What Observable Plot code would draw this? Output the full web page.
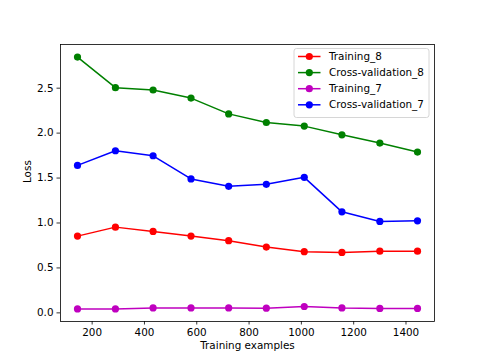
<!DOCTYPE html>
<html>
<head>
<meta charset="utf-8">
<script src="https://cdn.jsdelivr.net/npm/d3@7"></script>
<script src="https://cdn.jsdelivr.net/npm/@observablehq/plot@0.6"></script>
<style>
  html, body { margin: 0; padding: 0; background: #fff; }
  #chart { width: 482px; height: 361px; }
  svg { font-family: "DejaVu Sans", sans-serif; }
</style>
</head>
<body>
<div id="chart"></div>
<script>
const trainingSizes = [144, 289, 433, 578, 722, 866, 1011, 1155, 1300, 1444];
const training8 = [0.854, 0.954, 0.906, 0.854, 0.803, 0.732, 0.681, 0.673, 0.687, 0.687];
const crossValidation8 = [2.846, 2.506, 2.480, 2.390, 2.214, 2.118, 2.078, 1.981, 1.889, 1.789];
const training7 = [0.044, 0.044, 0.055, 0.055, 0.055, 0.052, 0.071, 0.055, 0.049, 0.049];
const crossValidation7 = [1.641, 1.804, 1.748, 1.490, 1.408, 1.430, 1.508, 1.124, 1.017, 1.024];
const seriesNames = ["Training_8", "Cross-validation_8", "Training_7", "Cross-validation_7"];
const seriesColors = ["#ff0000", "#008000", "#bf00bf", "#0000ff"];
const seriesValues = [training8, crossValidation8, training7, crossValidation7];
const xTicks = [200, 400, 600, 800, 1000, 1200, 1400];
const yTicks = [0.0, 0.5, 1.0, 1.5, 2.0, 2.5];

const data = seriesNames.flatMap((name, i) =>
  trainingSizes.map((x, j) => ({series: name, x, y: seriesValues[i][j]}))
);

const fs = 10.4;
const plot = Plot.plot({
  width: 482,
  height: 361,
  marginLeft: 60,
  marginRight: 48,
  marginTop: 44,
  marginBottom: 40,
  style: {fontFamily: '"DejaVu Sans", sans-serif', fontSize: fs + "px", color: "#000", background: "#fff"},
  x: {domain: [79, 1509]},
  y: {domain: [-0.096, 2.986]},
  color: {domain: seriesNames, range: seriesColors},
  marks: [
    Plot.frame({stroke: "#000", strokeWidth: 0.8}),
    Plot.axisX(xTicks, {tickSize: 3.5, tickPadding: 3.5, fontSize: fs, label: null, tickFormat: d3.format("d"), strokeWidth: 0.8, stroke: "#000"}),
    Plot.axisY(yTicks, {tickSize: 3.5, tickPadding: 3.5, fontSize: fs, label: null, tickFormat: d3.format(".1f"), strokeWidth: 0.8, stroke: "#000"}),
    Plot.line(data, {x: "x", y: "y", z: "series", stroke: "series", strokeWidth: 1.5}),
    Plot.dot(data, {x: "x", y: "y", fill: "series", r: 3.6}),
    Plot.text(["Training examples"], {frameAnchor: "bottom", dy: 27.5, fontSize: fs, fill: "#000"}),
    Plot.text(["Loss"], {frameAnchor: "left", dx: -33, rotate: -90, fontSize: fs, fill: "#000"})
  ]
});
document.getElementById("chart").appendChild(plot);

// Legend (upper right, inside the frame)
const svgSel = d3.select(plot);
const frameRight = 482 - 48, frameTop = 44;
const boxW = 135, boxH = 69;
const bx = frameRight - 5 - boxW, by = frameTop + 4.5;
const lg = svgSel.append("g").attr("text-anchor", "start");
lg.append("rect").attr("x", bx).attr("y", by).attr("width", boxW).attr("height", boxH)
  .attr("rx", 2.5).attr("fill", "#fff").attr("fill-opacity", 0.8)
  .attr("stroke", "#cccccc").attr("stroke-width", 0.8);
seriesNames.forEach((name, i) => {
  const yy = by + 8 + i * 16.1;
  lg.append("line").attr("x1", bx + 4).attr("x2", bx + 26.5).attr("y1", yy).attr("y2", yy)
    .attr("stroke", seriesColors[i]).attr("stroke-width", 1.5);
  lg.append("circle").attr("cx", bx + 15.3).attr("cy", yy).attr("r", 3.6).attr("fill", seriesColors[i]);
  lg.append("text").attr("x", bx + 35).attr("y", yy).attr("dy", "0.35em")
    .attr("text-anchor", "start").attr("font-size", fs).attr("fill", "#000").text(name);
});
</script>
</body>
</html>
